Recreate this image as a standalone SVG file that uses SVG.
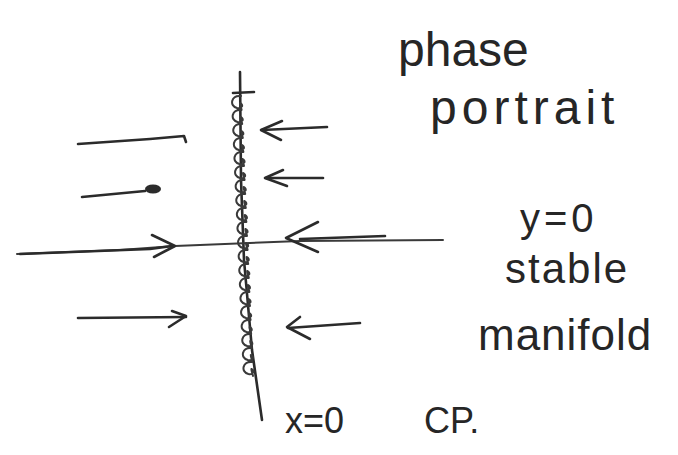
<svg xmlns="http://www.w3.org/2000/svg" width="678" height="455" viewBox="0 0 678 455">
<style>
.ink{fill:none;stroke:#2b2b2b;stroke-width:2.6;stroke-linecap:round;stroke-linejoin:round}
.thin{fill:none;stroke:#3a3a3a;stroke-width:2;stroke-linecap:round;stroke-linejoin:round}
.t{font-family:"Liberation Sans","DejaVu Sans",sans-serif;fill:#262626}
</style>
<rect width="678" height="455" fill="#fff"/>
<g id="axes">
<path class="ink" d="M240 72 L241 180 L244 260 L252 350 L262 420"/>
<path class="ink" d="M233 93 L254 92"/>
<path class="thin" d="M17 254 L120 250 L175 246 L300 241 L443 240"/>
<path class="ink" d="M20 254 L150 249 L172 246"/>
<path class="ink" d="M300 239 L385 236"/>
</g>
<g id="squiggle">
<path class="thin" d="M241 96 c -10 -1 -12 10 -4 12 c 5 1 7 -3 3 -5 c 0 2 1 4 1.6 7 c -10 -1 -12 10 -4 12 c 5 1 7 -3 3 -5 c 0 2 1 4 1.6 7 c -10 -1 -12 10 -4 12 c 5 1 7 -3 3 -5 c 0 2 1 4 1.6 7 c -10 -1 -12 10 -4 12 c 5 1 7 -3 3 -5 c 0 2 1 4 1.6 7 c -10 -1 -12 10 -4 12 c 5 1 7 -3 3 -5 c 0 2 1 4 1.6 7 c -10 -1 -12 10 -4 12 c 5 1 7 -3 3 -5 c 0 2 1 4 1.6 7 c -10 -1 -12 10 -4 12 c 5 1 7 -3 3 -5 c 0 2 1 4 1.6 7 c -10 -1 -12 10 -4 12 c 5 1 7 -3 3 -5 c 0 2 1 4 1.6 7 c -10 -1 -12 10 -4 12 c 5 1 7 -3 3 -5 c 0 2 1 4 1.6 7 c -10 -1 -12 10 -4 12 c 5 1 7 -3 3 -5 c 0 2 1 4 1.6 7 c -10 -1 -12 10 -4 12 c 5 1 7 -3 3 -5 c 0 2 1 4 1.6 7 c -10 -1 -12 10 -4 12 c 5 1 7 -3 3 -5 c 0 2 1 4 1.6 7 c -10 -1 -12 10 -4 12 c 5 1 7 -3 3 -5 c 0 2 1 4 1.6 7 c -10 -1 -12 10 -4 12 c 5 1 7 -3 3 -5 c 0 2 1 4 1.6 7 c -10 -1 -12 10 -4 12 c 5 1 7 -3 3 -5 c 0 2 1 4 1.6 7 c -10 -1 -12 10 -4 12 c 5 1 7 -3 3 -5 c 0 2 1 4 1.6 7 c -10 -1 -12 10 -4 12 c 5 1 7 -3 3 -5 c 0 2 1 4 1.6 7 c -10 -1 -12 10 -4 12 c 5 1 7 -3 3 -5 c 0 2 1 4 1.6 7 c -10 -1 -12 10 -4 12 c 5 1 7 -3 3 -5 c 0 2 1 4 1.6 7 c -10 -1 -12 10 -4 12 c 5 1 7 -3 3 -5 c 0 2 1 4 1.6 7"/>
</g>
<g id="connectors">
<path class="ink" d="M78 144 L150 139 L184 136 L186 142"/>
<path class="ink" d="M82 197 L145 191"/>
<ellipse cx="153" cy="189" rx="8" ry="4.5" fill="#2b2b2b"/>
<path class="ink" d="M152 235 L175 246 L154 257"/>
<path class="ink" d="M78 318 L186 317"/>
<path class="ink" d="M172 311 L186 316 L169 327"/>
<path class="ink" d="M327 127 L262 130"/>
<path class="ink" d="M282 121 L261 130 L281 140"/>
<path class="ink" d="M323 178 L266 178"/>
<path class="ink" d="M283 170 L265 178 L287 186"/>
<path class="ink" d="M360 323 L288 328"/>
<path class="ink" d="M300 317 L287 327 L310 339"/>
<path class="ink" d="M318 222 L286 238 L318 252"/>
</g>
<g id="labels">
<text class="t" x="398" y="66" font-size="48">phase</text>
<text class="t" x="430" y="124" font-size="48" letter-spacing="5">portrait</text>
<text class="t" x="520" y="232" font-size="40" letter-spacing="4">y=0</text>
<text class="t" x="505" y="283" font-size="42" letter-spacing="2">stable</text>
<text class="t" x="478" y="350" font-size="44" letter-spacing="1">manifold</text>
<text class="t" x="285" y="433" font-size="36">x=0</text>
<text class="t" x="424" y="433" font-size="36">CP.</text>
</g>
</svg>
